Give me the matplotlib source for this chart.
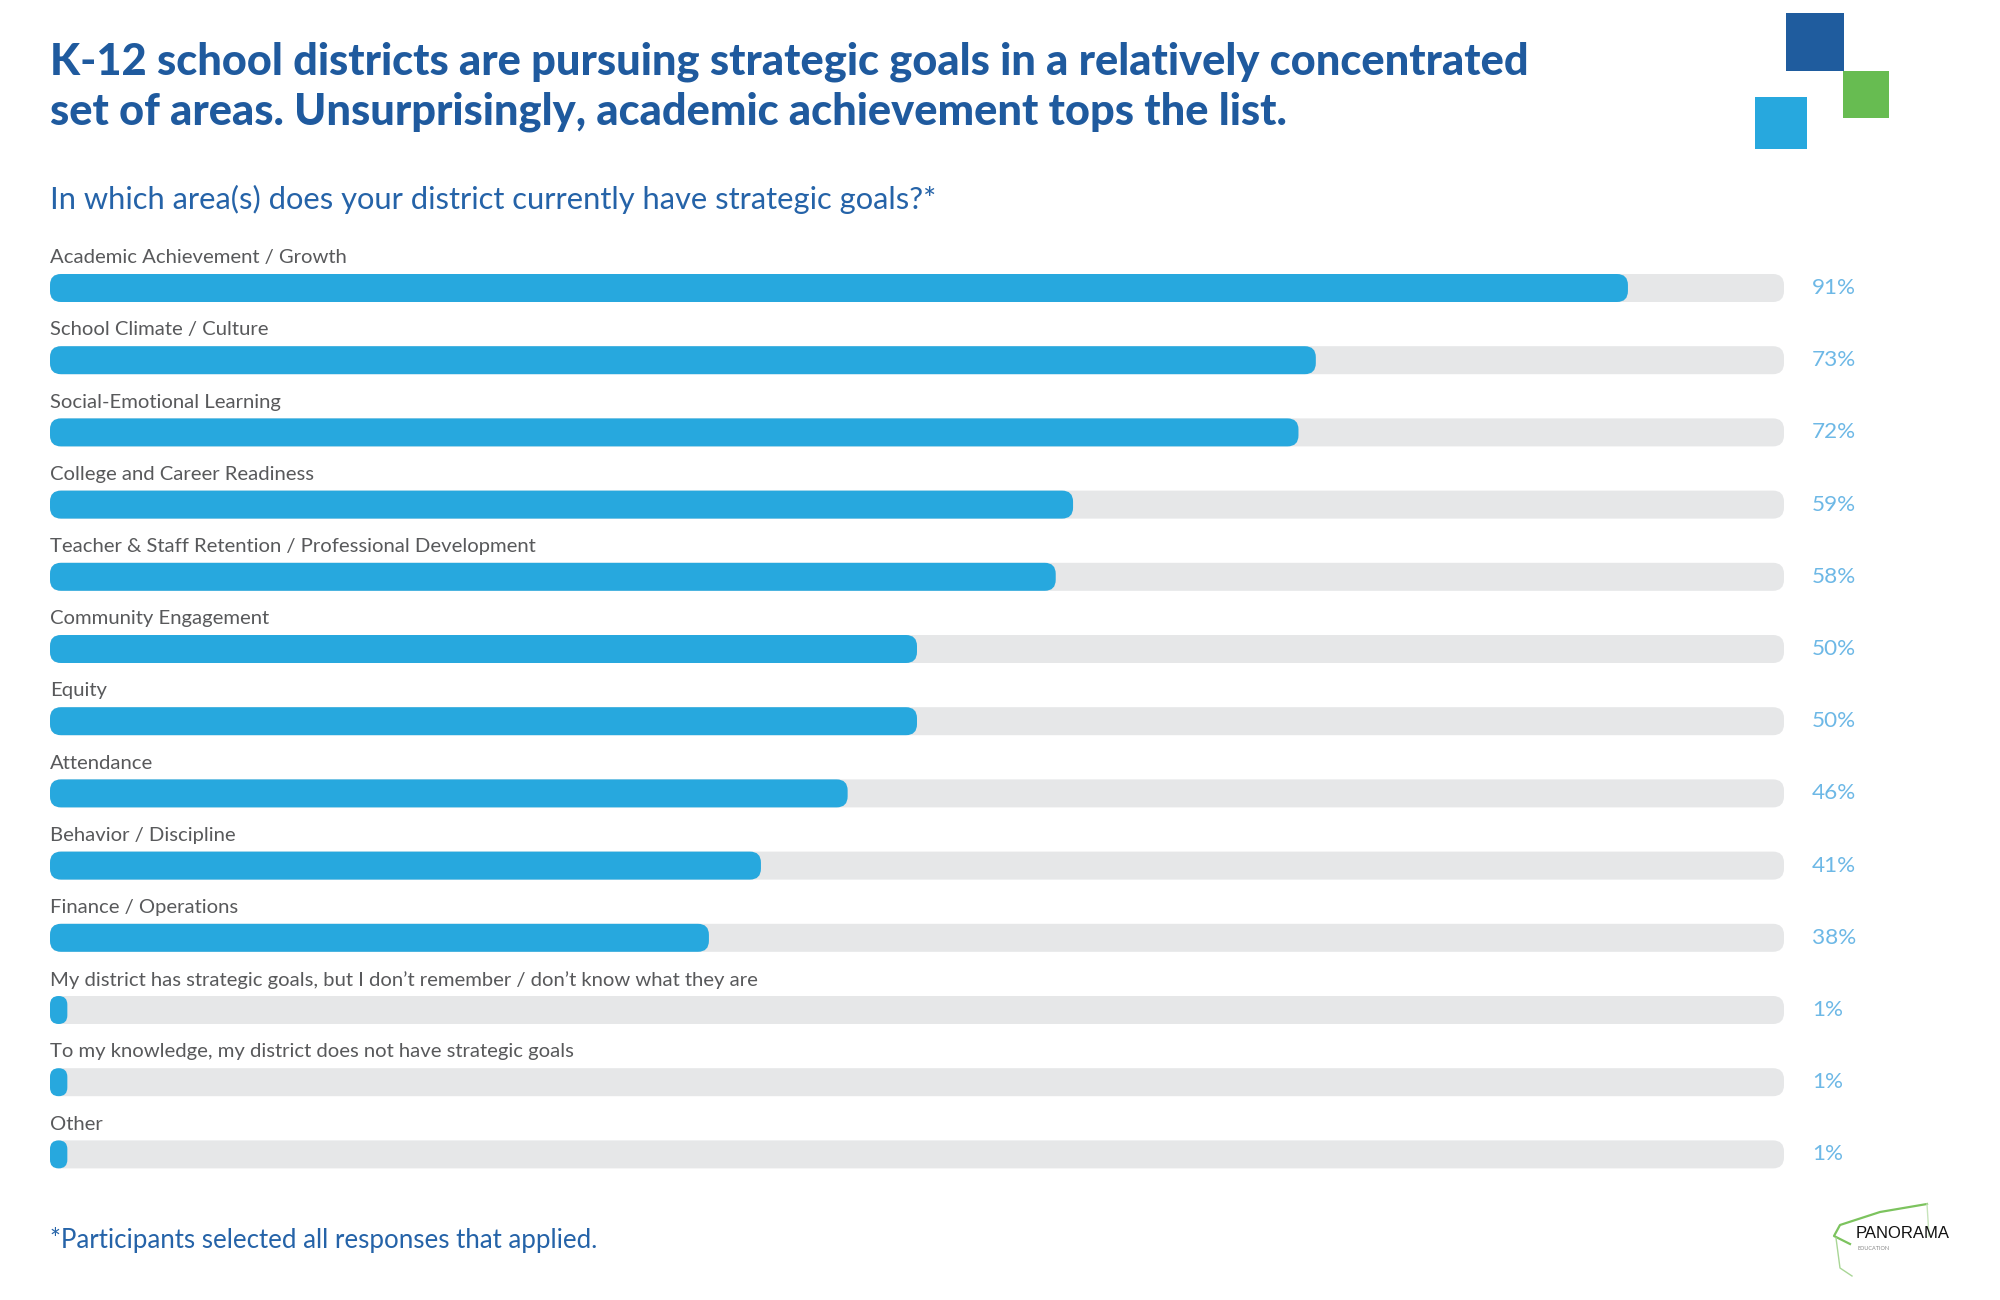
import matplotlib
matplotlib.use("Agg")
import matplotlib.pyplot as plt
from matplotlib.patches import FancyBboxPatch, Rectangle
from matplotlib.lines import Line2D

categories = [
    "Academic Achievement / Growth",
    "School Climate / Culture",
    "Social-Emotional Learning",
    "College and Career Readiness",
    "Teacher & Staff Retention / Professional Development",
    "Community Engagement",
    "Equity",
    "Attendance",
    "Behavior / Discipline",
    "Finance / Operations",
    "My district has strategic goals, but I don\u2019t remember / don\u2019t know what they are",
    "To my knowledge, my district does not have strategic goals",
    "Other",
]
values = [91, 73, 72, 59, 58, 50, 50, 46, 41, 38, 1, 1, 1]
value_labels = [f"{v}%" for v in values]

title = ("K-12 school districts are pursuing strategic goals in a relatively concentrated\n"
         "set of areas. Unsurprisingly, academic achievement tops the list.")
subtitle = "In which area(s) does your district currently have strategic goals?*"
footnote = "*Participants selected all responses that applied."

BLUE = "#27A8DE"
GRAY = "#E6E7E8"
DARK = "#1F5A9E"
MID = "#2563A8"
PCT = "#6DB8E6"
LABEL = "#58595B"

plt.rcParams["font.family"] = ["Lato", "DejaVu Sans"]

W, H = 2000, 1300
fig = plt.figure(figsize=(W / 100, H / 100), dpi=100)

# bar area in pixels
x0_px, x1_px = 50, 1784
row_px = 72.2
top_px = 288 - row_px / 2
n = len(categories)
ax = fig.add_axes([x0_px / W, 1 - (top_px + n * row_px) / H,
                   (x1_px - x0_px) / W, n * row_px / H])
ax.set_xlim(0, 100)
ax.set_ylim(n - 0.5, -0.5)
ax.axis("off")

px_x = (x1_px - x0_px) / 100.0
aspect = px_x / row_px
bar_h = 28 / row_px
r = 11 / px_x

for i, (cat, v, lab) in enumerate(zip(categories, values, value_labels)):
    bg = FancyBboxPatch((0, i - bar_h / 2), 100, bar_h,
                        boxstyle=f"round,pad=0,rounding_size={r}",
                        mutation_aspect=aspect, fc=GRAY, ec="none")
    ax.add_patch(bg)
    rs = min(r, v / 2)
    fg = FancyBboxPatch((0, i - bar_h / 2), v, bar_h,
                        boxstyle=f"round,pad=0,rounding_size={rs}",
                        mutation_aspect=aspect, fc=BLUE, ec="none")
    ax.add_patch(fg)
    ax.text(0, i - 0.42, cat, fontsize=14.6, color=LABEL, va="center", ha="left")
    ax.text(101.6, i, lab, fontsize=16.2, color=PCT, va="center", ha="left", clip_on=False)

fig.text(50 / W, 1 - 87 / H, title, fontsize=31.2, fontweight=900, color=DARK,
         va="center", ha="left", linespacing=1.3)
fig.text(50 / W, 1 - 199 / H, subtitle, fontsize=22.2, color=MID, va="center", ha="left")
fig.text(50 / W, 1 - 1240 / H, footnote, fontsize=18.6, color=MID, va="center", ha="left")

# decorative squares (top right)
for (x, y, w, h, c) in [(1786, 13, 58, 58, "#1F5C9E"),
                        (1843, 71, 46, 47, "#67BC51"),
                        (1755, 97, 52, 52, "#27A8DE")]:
    fig.patches.append(Rectangle((x / W, 1 - (y + h) / H), w / W, h / H,
                                 transform=fig.transFigure, fc=c, ec="none"))

# logo
def fx(x):
    return x / W

def fy(y):
    return 1 - y / H

fig.lines.append(Line2D([fx(1927), fx(1880), fx(1840), fx(1834), fx(1850)],
                        [fy(1204), fy(1212), fy(1225), fy(1236), fy(1244)],
                        transform=fig.transFigure, color="#7CC35E", lw=1.6))
fig.lines.append(Line2D([fx(1836), fx(1840), fx(1852)],
                        [fy(1238), fy(1268), fy(1276)],
                        transform=fig.transFigure, color="#A9D696", lw=1.0))
fig.lines.append(Line2D([fx(1927), fx(1929)], [fy(1204), fy(1236)],
                        transform=fig.transFigure, color="#C7E4BB", lw=1.0))
fig.text(fx(1856), fy(1234), "PANORAMA", fontsize=12, color="#111111",
         va="center", ha="left", family=["Liberation Sans", "DejaVu Sans"])
fig.text(fx(1858), fy(1248), "EDUCATION", fontsize=4, color="#888888",
         va="center", ha="left")

fig.savefig("out.png", dpi=100, facecolor="white")
